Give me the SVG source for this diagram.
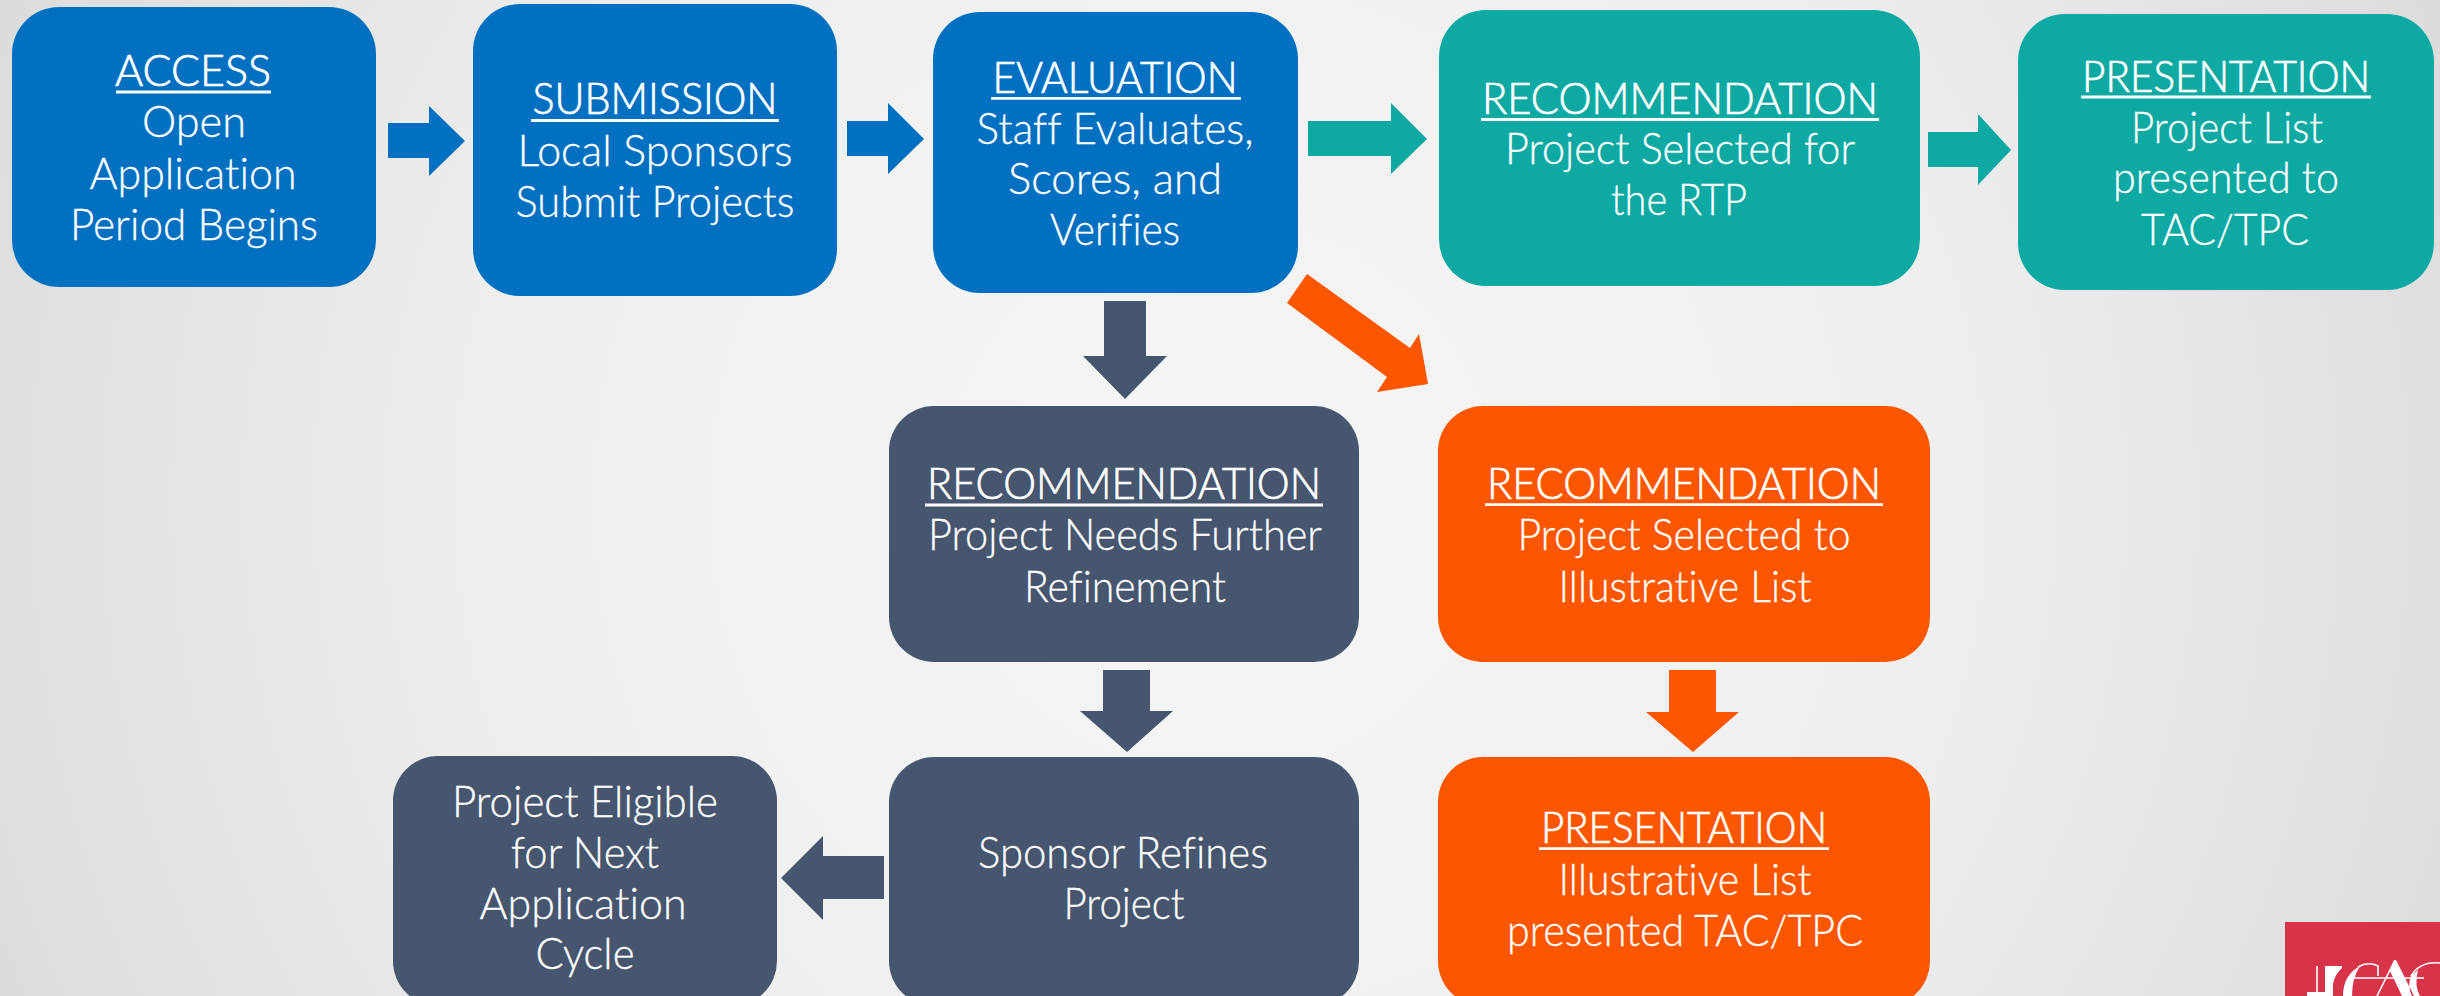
<svg xmlns="http://www.w3.org/2000/svg" width="2440" height="996" viewBox="0 0 2440 996">
<style>
text{font-family:"Lato","Noto Sans",sans-serif;font-size:43px;font-weight:300;fill:#fff;stroke:#fff;stroke-width:.3;text-anchor:middle;font-variant-ligatures:none;transform:translateY(1px)}
text.t{stroke-width:.7;transform:none}
.u{stroke:#fff;stroke-width:2.8;fill:none}
.blue{fill:#0270c0}.teal{fill:#0ea9a3}.slate{fill:#46566e}.orange{fill:#fc5600}
.logo{fill:none;stroke:#fff;stroke-width:1.6}
</style>
<defs><radialGradient id="bg" gradientUnits="userSpaceOnUse" cx="1220" cy="498" r="1320">
<stop offset="0" stop-color="#f6f6f6"/><stop offset=".55" stop-color="#efefef"/><stop offset="1" stop-color="#dcdcdc"/></radialGradient></defs>
<rect width="2440" height="996" fill="url(#bg)"/>
<g id="connectors">
<polygon class="blue" points="388,123 429,123 429,106 465,141 429,176 429,158 388,158" id="a1"/>
<polygon class="blue" points="847,121 888,121 888,103 924,139 888,174 888,156 847,156" id="a2"/>
<polygon class="teal" points="1308,121 1391,121 1391,103 1427,139 1391,174 1391,156 1308,156" id="a3"/>
<polygon class="teal" points="1928,132 1978,132 1978,114 2011,150 1978,185 1978,167 1928,167" id="a4"/>
<polygon class="orange" points="1307,274 1287,303 1387,377 1377,392 1428,384 1419,334 1410,348" id="a5"/>
<polygon class="slate" points="1104,301 1146,301 1146,356 1167,356 1125,399 1083,356 1104,356" id="a6"/>
<polygon class="slate" points="1103,670 1150,670 1150,711 1173,711 1127,752 1080,711 1103,711" id="a7"/>
<polygon class="orange" points="1669,670 1716,670 1716,712 1739,712 1693,752 1646,712 1669,712" id="a8"/>
<polygon class="slate" points="884,856 823,856 823,836 781,878 823,920 823,899 884,899" id="a9"/>
</g>
<g id="access"><rect class="blue" x="12" y="7" width="364" height="280" rx="47"/>
<text class="t" x="193" y="86" textLength="156" lengthAdjust="spacingAndGlyphs">ACCESS</text><line class="u" x1="116" x2="271" y1="92" y2="92"/>
<text x="194" y="136" textLength="104" lengthAdjust="spacingAndGlyphs">Open</text>
<text x="193" y="188" textLength="207" lengthAdjust="spacingAndGlyphs">Application</text>
<text x="194" y="239" textLength="248" lengthAdjust="spacingAndGlyphs">Period Begins</text></g>
<g id="submission"><rect class="blue" x="473" y="4" width="364" height="292" rx="47"/>
<text class="t" x="655" y="114" textLength="245" lengthAdjust="spacingAndGlyphs">SUBMISSION</text><line class="u" x1="531" x2="779" y1="120.5" y2="120.5"/>
<text x="655" y="165" textLength="275" lengthAdjust="spacingAndGlyphs">Local Sponsors</text>
<text x="655" y="216" textLength="279" lengthAdjust="spacingAndGlyphs">Submit Projects</text></g>
<g id="evaluation"><rect class="blue" x="933" y="12" width="365" height="281" rx="47"/>
<text class="t" x="1115" y="93" textLength="245" lengthAdjust="spacingAndGlyphs">EVALUATION</text><line class="u" x1="991" x2="1241" y1="98.3" y2="98.3"/>
<text x="1115" y="143" textLength="277" lengthAdjust="spacingAndGlyphs">Staff Evaluates,</text>
<text x="1115" y="193" textLength="214" lengthAdjust="spacingAndGlyphs">Scores, and</text>
<text x="1115" y="244" textLength="130" lengthAdjust="spacingAndGlyphs">Verifies</text></g>
<g id="recommendation-rtp"><rect class="teal" x="1439" y="10" width="481" height="276" rx="47"/>
<text class="t" x="1680" y="114" textLength="396" lengthAdjust="spacingAndGlyphs">RECOMMENDATION</text><line class="u" x1="1481" x2="1879" y1="119.5" y2="119.5"/>
<text x="1680" y="163" textLength="350" lengthAdjust="spacingAndGlyphs">Project Selected for</text>
<text x="1679" y="214" textLength="136" lengthAdjust="spacingAndGlyphs">the RTP</text></g>
<g id="presentation-rtp"><rect class="teal" x="2018" y="14" width="416" height="276" rx="47"/>
<text class="t" x="2226" y="92" textLength="288" lengthAdjust="spacingAndGlyphs">PRESENTATION</text><line class="u" x1="2081" x2="2371" y1="97" y2="97"/>
<text x="2227" y="142" textLength="192" lengthAdjust="spacingAndGlyphs">Project List</text>
<text x="2226" y="192" textLength="226" lengthAdjust="spacingAndGlyphs">presented to</text>
<text x="2225" y="244" textLength="168" lengthAdjust="spacingAndGlyphs">TAC/TPC</text></g>
<g id="recommendation-refine"><rect class="slate" x="889" y="406" width="470" height="256" rx="45"/>
<text class="t" x="1124" y="499" textLength="394" lengthAdjust="spacingAndGlyphs">RECOMMENDATION</text><line class="u" x1="925" x2="1323" y1="505" y2="505"/>
<text x="1125" y="549" textLength="394" lengthAdjust="spacingAndGlyphs">Project Needs Further</text>
<text x="1125" y="601" textLength="202" lengthAdjust="spacingAndGlyphs">Refinement</text></g>
<g id="recommendation-illustrative"><rect class="orange" x="1438" y="406" width="492" height="256" rx="45"/>
<text class="t" x="1684" y="499" textLength="394" lengthAdjust="spacingAndGlyphs">RECOMMENDATION</text><line class="u" x1="1485" x2="1883" y1="504.7" y2="504.7"/>
<text x="1684" y="549" textLength="333" lengthAdjust="spacingAndGlyphs">Project Selected to</text>
<text x="1685" y="601" textLength="253" lengthAdjust="spacingAndGlyphs">Illustrative List</text></g>
<g id="sponsor-refines"><rect class="slate" x="889" y="757" width="470" height="249" rx="45"/>
<text x="1123" y="867" textLength="290" lengthAdjust="spacingAndGlyphs">Sponsor Refines</text>
<text x="1124" y="918" textLength="121" lengthAdjust="spacingAndGlyphs">Project</text></g>
<g id="eligible"><rect class="slate" x="393" y="756" width="384" height="250" rx="45"/>
<text x="585" y="816" textLength="266" lengthAdjust="spacingAndGlyphs">Project Eligible</text>
<text x="585" y="867" textLength="148" lengthAdjust="spacingAndGlyphs">for Next</text>
<text x="583" y="918" textLength="207" lengthAdjust="spacingAndGlyphs">Application</text>
<text x="585" y="968" textLength="99" lengthAdjust="spacingAndGlyphs">Cycle</text></g>
<g id="presentation-illustrative"><rect class="orange" x="1438" y="757" width="492" height="249" rx="45"/>
<text class="t" x="1684" y="843" textLength="286" lengthAdjust="spacingAndGlyphs">PRESENTATION</text><line class="u" x1="1539" x2="1829" y1="848.7" y2="848.7"/>
<text x="1685" y="894" textLength="253" lengthAdjust="spacingAndGlyphs">Illustrative List</text>
<text x="1685" y="945" textLength="356" lengthAdjust="spacingAndGlyphs">presented TAC/TPC</text></g>
<g id="logo"><rect x="2285" y="922" width="155" height="74" fill="#d7344a"/>
<path class="logo" d="M2317 966V996M2353 978H2424M2358 967Q2368 961 2378 966V976M2377 996 2395 960M2440 963Q2420 961 2411 976"/>
<path fill="#fff" d="M2307 992H2333V996H2307ZM2325 966H2333V996H2325ZM2333 966H2342V968Q2335 974 2333 984ZM2360 966Q2343 975 2343 996H2352Q2352 978 2360 966ZM2394 960H2396L2414 996H2402L2390 971ZM2411 976Q2407 986 2412 996H2420Q2414 986 2418 970Z"/></g>
</svg>
